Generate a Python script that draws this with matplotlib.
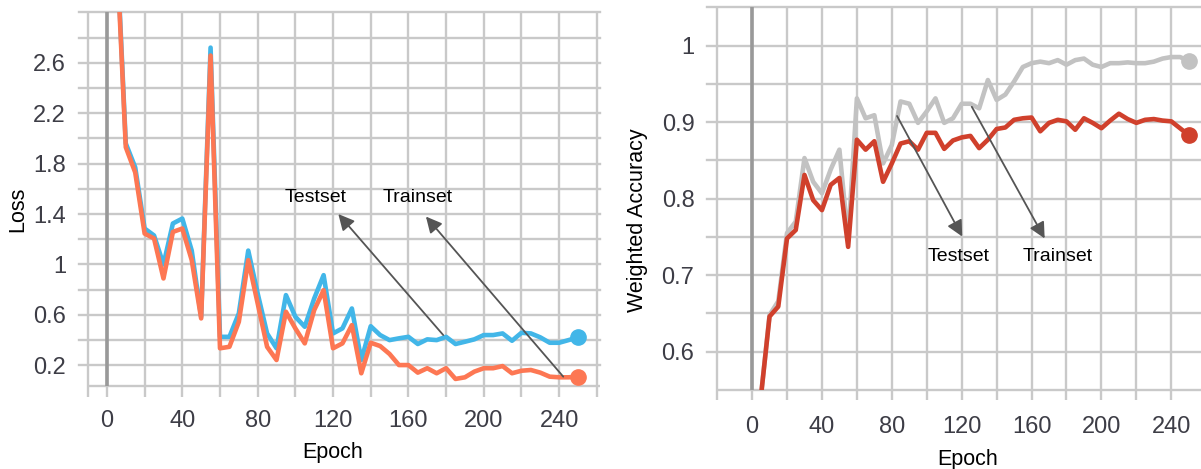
import matplotlib
matplotlib.use("Agg")
import matplotlib.pyplot as plt

# ── data ──
epochs = [5, 10, 15, 20, 25, 30, 35, 40, 45, 50, 55, 60, 65, 70, 75, 80, 85, 90, 95, 100,
          105, 110, 115, 120, 125, 130, 135, 140, 145, 150, 155, 160, 165, 170, 175, 180,
          185, 190, 195, 200, 205, 210, 215, 220, 225, 230, 235, 240, 245, 250]

loss_test = [3.6, 1.96, 1.77, 1.285, 1.23, 1.0, 1.325, 1.364, 1.11, 0.585, 2.72, 0.426, 0.426,
             0.612, 1.11, 0.77, 0.453, 0.335, 0.757, 0.585, 0.506, 0.73, 0.915, 0.453, 0.493,
             0.651, 0.242, 0.51, 0.44, 0.40, 0.414, 0.426, 0.369, 0.406, 0.40, 0.426, 0.369,
             0.387, 0.406, 0.44, 0.44, 0.453, 0.395, 0.458, 0.453, 0.422, 0.379, 0.379, 0.40, 0.422]
loss_train = [3.55, 1.93, 1.73, 1.245, 1.206, 0.889, 1.258, 1.285, 1.034, 0.572, 2.657, 0.335,
              0.347, 0.545, 1.034, 0.691, 0.347, 0.242, 0.625, 0.493, 0.374, 0.638, 0.796, 0.335,
              0.374, 0.519, 0.137, 0.379, 0.353, 0.29, 0.202, 0.202, 0.142, 0.177, 0.137, 0.177,
              0.092, 0.105, 0.15, 0.177, 0.177, 0.194, 0.137, 0.157, 0.163, 0.142, 0.11, 0.105,
              0.105, 0.11]

acc_train = [0.54, 0.648, 0.666, 0.755, 0.770, 0.853, 0.822, 0.807, 0.838, 0.864, 0.746, 0.931,
             0.905, 0.909, 0.846, 0.870, 0.927, 0.924, 0.899, 0.914, 0.931, 0.899, 0.905, 0.924,
             0.924, 0.918, 0.955, 0.929, 0.936, 0.953, 0.972, 0.977, 0.979, 0.977, 0.981, 0.975,
             0.981, 0.983, 0.975, 0.972, 0.977, 0.977, 0.978, 0.977, 0.977, 0.979, 0.983, 0.985,
             0.985, 0.980]
acc_test = [0.54, 0.646, 0.659, 0.748, 0.759, 0.831, 0.798, 0.785, 0.818, 0.827, 0.737, 0.877,
            0.864, 0.875, 0.822, 0.846, 0.872, 0.875, 0.864, 0.886, 0.886, 0.865, 0.876, 0.880,
            0.882, 0.866, 0.877, 0.891, 0.893, 0.903, 0.905, 0.906, 0.888, 0.899, 0.903, 0.901,
            0.890, 0.905, 0.899, 0.892, 0.902, 0.911, 0.904, 0.899, 0.903, 0.904, 0.902, 0.901,
            0.892, 0.883]

loss_ticks = [0.2, 0.6, 1.0, 1.4, 1.8, 2.2, 2.6]
loss_tick_labels = ["0.2", "0.6", "1", "1.4", "1.8", "2.2", "2.6"]
loss_grid = [0.2, 0.4, 0.6, 0.8, 1.0, 1.2, 1.4, 1.6, 1.8, 2.0, 2.2, 2.4, 2.6, 2.8, 3.0]
acc_ticks = [0.6, 0.7, 0.8, 0.9, 1.0]
acc_tick_labels = ["0.6", "0.7", "0.8", "0.9", "1"]
acc_grid = [0.6, 0.65, 0.7, 0.75, 0.8, 0.85, 0.9, 0.95, 1.0, 1.05]
epoch_ticks = [0, 40, 80, 120, 160, 200, 240]

C_BLUE, C_ORANGE = "#42b6e8", "#fd7753"
C_GRAY, C_RED = "#c2c2c2", "#d0402c"
GRID, ZERO, ARROW = "#c9c9c9", "#999999", "#555555"
TICK_C = "#3d3d46"
FONT = "Liberation Sans"

W, H = 1201, 469
fig = plt.figure(figsize=(W / 100, H / 100), dpi=100)
axL = fig.add_axes([78.5 / W, 1 - 386 / H, (600 - 78.5) / W, (386 - 12.3) / H])
axR = fig.add_axes([707 / W, 1 - 390 / H, (1201 - 707) / W, (390 - 7.3) / H])


def frame(ax, xlim, ylim, hgrid, vgrid, ext, xpad):
    ax.set_xlim(*xlim); ax.set_ylim(*ylim)
    for s in ax.spines.values():
        s.set_visible(False)
    for y in hgrid:
        ax.axhline(y, color=GRID, lw=1.7, zorder=0, clip_on=False)
    ax.hlines(ylim[0], vgrid[0], xlim[1], color=GRID, lw=1.7, zorder=0, clip_on=False)
    ax.vlines(vgrid, ylim[0] - ext, ylim[1], color=GRID, lw=1.7, zorder=0, clip_on=False)
    ax.vlines(0, ylim[0], ylim[1], color=ZERO, lw=2.6, zorder=1)
    ax.set_xticks(epoch_ticks)
    ax.tick_params(length=0, labelsize=17, labelcolor=TICK_C)
    ax.tick_params(axis="x", pad=xpad)
    ax.tick_params(axis="y", pad=9)
    for lab in ax.get_xticklabels() + ax.get_yticklabels():
        lab.set_fontfamily(FONT)


# ── left: loss ──
frame(axL, (-15.1, 261.7), (0.036, 3.0), loss_grid,
      [-10] + list(range(0, 261, 20)), 0.087, 17)
axL.set_yticks(loss_ticks, loss_tick_labels)
for lab in axL.get_yticklabels():
    lab.set_fontfamily(FONT)
axL.plot(epochs, loss_test, color=C_BLUE, lw=3.3, zorder=3)
axL.plot(epochs, loss_train, color=C_ORANGE, lw=3.3, zorder=4)
axL.plot(epochs[-1], loss_test[-1], "o", ms=11, color=C_BLUE, zorder=5, clip_on=False)
axL.plot(epochs[-1], loss_train[-1], "o", ms=11, color=C_ORANGE, zorder=5, clip_on=False)
arr = dict(arrowstyle="-|>", color=ARROW, lw=1.3, mutation_scale=24, shrinkA=0, shrinkB=0)
axL.annotate("", xy=(122.8, 1.40), xytext=(178.5, 0.44), arrowprops=arr, zorder=6)
axL.annotate("", xy=(169.3, 1.38), xytext=(242.2, 0.11), arrowprops=arr, zorder=6)
axL.text(110.5, 1.53, "Testset", ha="center", va="center", fontsize=14,
         family=FONT, color="black")
axL.text(164.9, 1.53, "Trainset", ha="center", va="center", fontsize=14,
         family=FONT, color="black")

# ── right: weighted accuracy ──
frame(axR, (-25.8, 257.0), (0.55, 1.05), acc_grid,
      list(range(-20, 261, 20)), 0.013, 19)
axR.set_yticks(acc_ticks, acc_tick_labels)
for lab in axR.get_yticklabels():
    lab.set_fontfamily(FONT)
axR.plot(epochs, acc_train, color=C_GRAY, lw=3.3, zorder=3)
axR.plot(epochs, acc_test, color=C_RED, lw=3.3, zorder=4)
axR.plot(epochs[-1], acc_train[-1], "o", ms=11, color=C_GRAY, zorder=5, clip_on=False)
axR.plot(epochs[-1], acc_test[-1], "o", ms=11, color=C_RED, zorder=5, clip_on=False)
axR.annotate("", xy=(120.3, 0.7505), xytext=(83.0, 0.908), arrowprops=arr, zorder=6)
axR.annotate("", xy=(167.5, 0.748), xytext=(125.8, 0.920), arrowprops=arr, zorder=6)
axR.text(118.2, 0.725, "Testset", ha="center", va="center", fontsize=14,
         family=FONT, color="black")
axR.text(175.2, 0.725, "Trainset", ha="center", va="center", fontsize=14,
         family=FONT, color="black")

# axis titles
lab = dict(fontsize=15.5, family=FONT, color="black", ha="center", va="center")
fig.text(333 / W, 1 - 452 / H, "Epoch", **lab)
fig.text(968 / W, 1 - 459 / H, "Epoch", **lab)
fig.text(18 / W, 1 - 209 / H, "Loss", rotation=90, **lab)
fig.text(638 / W, 1 - 220 / H, "Weighted Accuracy", rotation=90, **lab)

fig.savefig("out.png", dpi=100, facecolor="white")
